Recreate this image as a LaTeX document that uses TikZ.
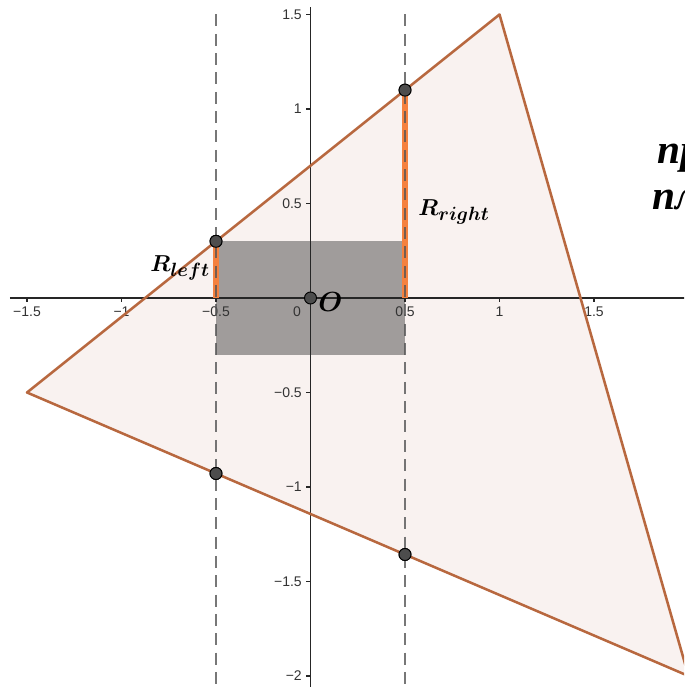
\documentclass[tikz,border=0pt]{standalone}
\usepackage{amsmath,bm}
\usepackage{fontspec}
\setsansfont{Liberation Sans}
\newfontfamily\cyrserif{Liberation Serif}
\definecolor{triedge}{HTML}{B8683F}
\definecolor{trifillc}{HTML}{F9F2F0}
\definecolor{rectc}{HTML}{A09C9B}
\definecolor{segc}{HTML}{F5813F}
\definecolor{dashc}{HTML}{555555}
\definecolor{ptc}{HTML}{4D4D4D}
\tikzset{
  axisline/.style={line width=1.3pt, draw=black!85},
  tickmark/.style={line width=1pt, draw=black!85},
  ticklbl/.style={font=\sffamily\fontsize{10.5}{12}\selectfont, text=black!80, inner sep=0pt},
  guide/.style={line width=1.1pt, draw=dashc, dash pattern=on 9pt off 5.5pt},
  edge/.style={line width=1.9pt, draw=triedge},
  seg/.style={line width=4.4pt, draw=segc},
  pt/.style={circle, fill=ptc, draw=black, line width=0.7pt, minimum size=9pt, inner sep=0pt},
  mathlbl/.style={inner sep=0pt, text=black},
  cyr/.style={inner sep=0pt, anchor=base west, font=\cyrserif\bfseries\itshape\fontsize{31}{36}\selectfont}
}
\begin{document}
\begin{tikzpicture}[x=141.75pt,y=141.75pt]
\clip (-1.6429,-2.0582) rectangle (1.9762,1.5767);
\coordinate (A) at (-1.5,-0.5);
\coordinate (B) at (1,1.5);
\coordinate (C) at (2,-2);
\fill[trifillc] (A) -- (B) -- (C) -- cycle;
\fill[rectc] (-0.5,-0.3) rectangle (0.5,0.3);
% axes
\coordinate (xl) at (-1.59,0);
\coordinate (xr) at (1.98,0);
\coordinate (yb) at (0,-2.06);
\coordinate (yt) at (0,1.54);
\draw[axisline] (xl) -- (xr);
\draw[axisline] (yb) -- (yt);
\foreach \v/\t in {-1.5/−1.5,-1/−1,-0.5/−0.5,0.5/0.5,1/1,1.5/1.5}{
  \draw[tickmark] (\v,0) -- (\v,-0.022);
  \node[ticklbl] at (\v,-0.074) {\t};
}
\node[ticklbl] at (-0.071,-0.074) {0};
\foreach \v/\t in {1.5/1.5,1/1,0.5/0.5,-0.5/−0.5,-1/−1,-1.5/−1.5,-2/−2}{
  \draw[tickmark] (0,\v) -- (-0.022,\v);
  \node[ticklbl, anchor=east] at (-0.045,\v) {\t};
}
% triangle edges
\draw[edge, line join=round] (A) -- (B) -- (C) -- cycle;
% points and orange segments
\coordinate (L0) at (-0.5,0);
\coordinate (R0) at (0.5,0);
\node[pt] (P1) at (-0.5,0.3) {};
\node[pt] (P2) at (0.5,1.1) {};
\node[pt] (P3) at (-0.5,-0.928571) {};
\node[pt] (P4) at (0.5,-1.357143) {};
\draw[seg] (L0) -- (P1.center);
\draw[seg] (R0) -- (P2.center);
% dashed guides
\coordinate (gLt) at (-0.5,1.5);
\coordinate (gLb) at (-0.5,-2.06);
\coordinate (gRt) at (0.5,1.5);
\coordinate (gRb) at (0.5,-2.06);
\draw[guide, draw opacity=0.8] (gLt) -- (gLb);
\draw[guide, draw opacity=0.8] (gRt) -- (gRb);
% points on top
\node[pt] at (P1) {};
\node[pt] at (P2) {};
\node[pt] at (P3) {};
\node[pt] at (P4) {};
\node[pt] (O) at (0,0) {};
% labels
\node[mathlbl] (Rl) at (-0.69,0.159) {\fontsize{19}{21}\selectfont$\bm{R_{left}}$};
\node[mathlbl] (Rr) at (0.759,0.455) {\fontsize{19}{21}\selectfont$\bm{R_{right}}$};
\node[mathlbl] (Ol) at (0.105,-0.021) {\fontsize{21}{24}\selectfont$\bm{O}$};
\node[cyr] (t1) at (1.8333,0.714) {пр};
\node[cyr] (t2) at (1.8069,0.4656) {пл};
\end{tikzpicture}
\end{document}
